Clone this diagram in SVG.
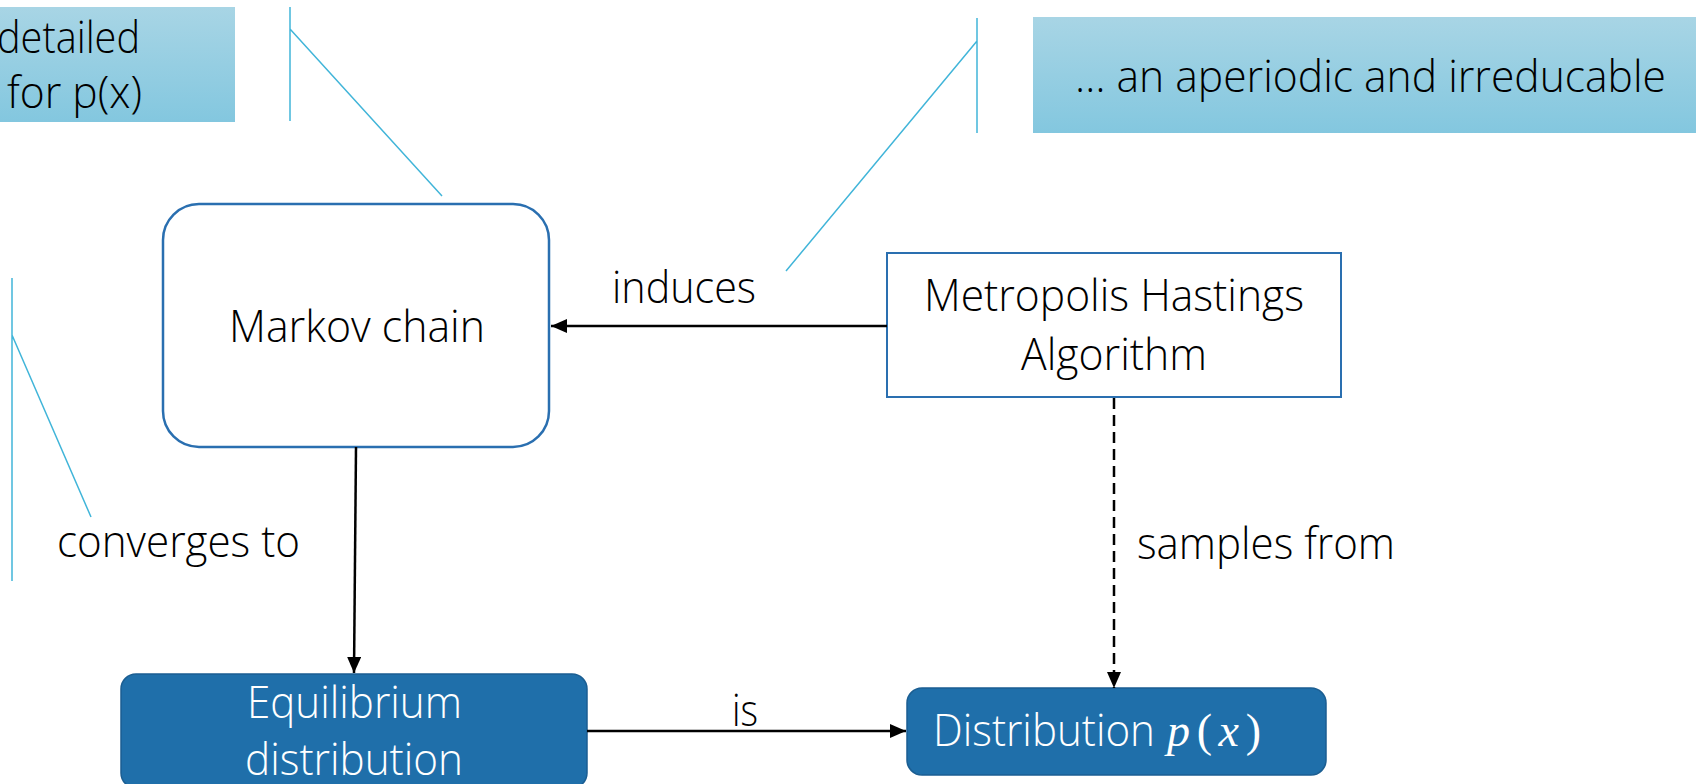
<svg xmlns="http://www.w3.org/2000/svg" width="1696" height="784" viewBox="0 0 1696 784">
<defs>
<linearGradient id="callGrad" x1="0" y1="0" x2="0" y2="1">
<stop offset="0" stop-color="#A8D5E5"/>
<stop offset="1" stop-color="#83C7DF"/>
</linearGradient>
<marker id="arr" viewBox="0 0 16 14" refX="16" refY="7" markerWidth="16" markerHeight="14" markerUnits="userSpaceOnUse" orient="auto">
<path d="M0,0 L16,7 L0,14 z" fill="#000"/>
</marker>
<style>
.t{font-family:"Open Sans","Noto Sans","Liberation Sans",sans-serif;font-weight:300;font-size:45px;fill:#000}
.w{fill:#fff}
.call{fill:url(#callGrad)}
.cl{stroke:#41B5D9;stroke-width:1.5;fill:none}
.outline{fill:#fff;stroke:#2A6FB0;stroke-width:2.5}
.dark{fill:#1F6FAA;stroke:#1B5E92;stroke-width:1.5}
.conn{stroke:#000;stroke-width:2.5;fill:none}
.dash{stroke-dasharray:11 6}
.math{font-family:"Liberation Serif","DejaVu Serif",serif;font-weight:400;font-size:46px}
</style>
</defs>

<g id="callout-left-top">
<rect class="call" x="-20" y="7" width="255" height="115"/>
<text class="t" x="-3" y="53" textLength="143" lengthAdjust="spacingAndGlyphs">detailed</text>
<text class="t" x="7" y="108" textLength="135" lengthAdjust="spacingAndGlyphs">for p(x)</text>
<path class="cl" d="M290,7 L290,121 M290,29 L442,196"/>
</g>

<g id="callout-right-top">
<rect class="call" x="1033" y="17" width="680" height="116"/>
<text class="t" x="1075" y="92" textLength="591" lengthAdjust="spacingAndGlyphs">… an aperiodic and irreducable</text>
<path class="cl" d="M977,18 L977,133 M977,41 L786,271"/>
</g>

<g id="callout-left">
<path class="cl" d="M12,278 L12,581 M12,335 L91,517"/>
</g>

<g id="markov">
<rect class="outline" x="163" y="204" width="386" height="243" rx="36" ry="36"/>
<text class="t" x="229" y="342" textLength="256" lengthAdjust="spacingAndGlyphs">Markov chain</text>
</g>

<g id="metropolis">
<rect class="outline" x="887" y="253" width="454" height="144" style="stroke-width:2"/>
<text class="t" x="924" y="311" textLength="380" lengthAdjust="spacingAndGlyphs">Metropolis Hastings</text>
<text class="t" x="1021" y="370" textLength="186" lengthAdjust="spacingAndGlyphs">Algorithm</text>
</g>

<g id="equilibrium">
<rect class="dark" x="121" y="674" width="466" height="114" rx="15" ry="15"/>
<text class="t w" x="247" y="718" textLength="215" lengthAdjust="spacingAndGlyphs">Equilibrium</text>
<text class="t w" x="245" y="775" textLength="218" lengthAdjust="spacingAndGlyphs">distribution</text>
</g>

<g id="distribution">
<rect class="dark" x="907" y="688" width="419" height="87" rx="15" ry="15"/>
<text class="t w" x="933" y="746" textLength="222" lengthAdjust="spacingAndGlyphs">Distribution</text>
<text class="w math" x="1167" y="746" textLength="94" lengthAdjust="spacing"><tspan font-style="italic">p</tspan><tspan>(</tspan><tspan font-style="italic">x</tspan><tspan>)</tspan></text>
</g>

<g id="connectors">
<line class="conn" x1="887" y1="326" x2="551" y2="326" marker-end="url(#arr)"/>
<line class="conn" x1="356" y1="447" x2="354" y2="673" marker-end="url(#arr)"/>
<line class="conn dash" x1="1114" y1="398" x2="1114" y2="688" marker-end="url(#arr)"/>
<line class="conn" x1="587" y1="731" x2="906" y2="731" marker-end="url(#arr)"/>
<text class="t" x="612" y="303" textLength="144" lengthAdjust="spacingAndGlyphs">induces</text>
<text class="t" x="57" y="557" textLength="243" lengthAdjust="spacingAndGlyphs">converges to</text>
<text class="t" x="1137" y="559" textLength="258" lengthAdjust="spacingAndGlyphs">samples from</text>
<text class="t" x="732" y="726" textLength="26" lengthAdjust="spacingAndGlyphs">is</text>
</g>
</svg>
